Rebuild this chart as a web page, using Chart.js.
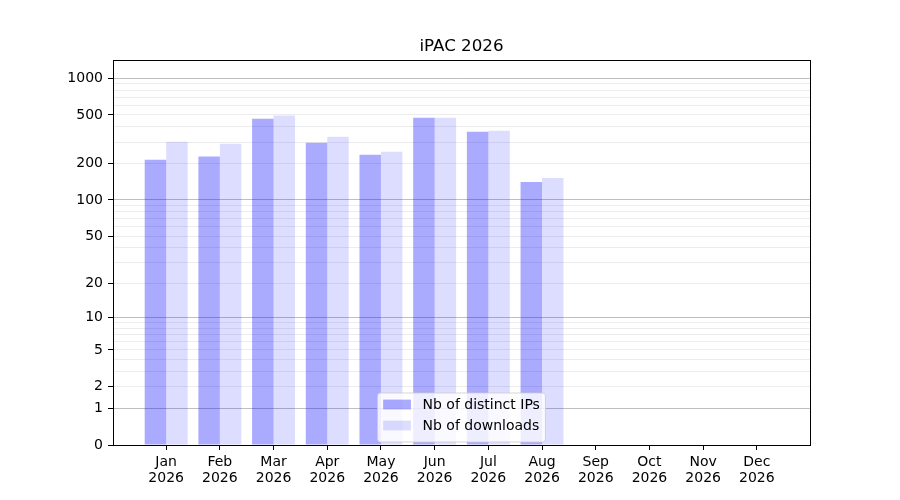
<!DOCTYPE html>
<html>
<head>
<meta charset="utf-8">
<title>iPAC 2026</title>
<script src="https://cdn.jsdelivr.net/npm/chart.js@4"></script>
<style>
  html, body { margin: 0; padding: 0; background: #fff; }
  #wrap { width: 900px; height: 500px; }
</style>
</head>
<body>
<div id="wrap"><canvas id="result"></canvas></div>
<script>
"use strict";
// monthly stats
const title = "iPAC 2026";
const year = "2026";
const months = ["Jan", "Feb", "Mar", "Apr", "May", "Jun", "Jul", "Aug", "Sep", "Oct", "Nov", "Dec"];
const distinctIps = [215, 228, 466, 296, 236, 474, 364, 141, 0, 0, 0, 0];
const downloads = [302, 291, 495, 331, 249, 475, 371, 152, 0, 0, 0, 0];

// y axis (log(1+x) scale)
const yLabels = [0, 1, 2, 5, 10, 20, 50, 100, 200, 500, 1000];
const yMajor = [1, 10, 100, 1000];
const yGrid = [0, 1, 2, 3, 4, 5, 6, 7, 8, 9, 10, 20, 30, 40, 50, 60, 70, 80, 90,
  100, 200, 300, 400, 500, 600, 700, 800, 900, 1000];
const yMax = 1410;

const FONT = "'DejaVu Sans', sans-serif";

// scale like matplotlib's log1p axis
class Log1pScale extends Chart.Scale {
  static id = "log1p";
  static defaults = {};
  determineDataLimits() {
    this.min = this.options.min;
    this.max = this.options.max;
  }
  buildTicks() {
    return yGrid.map((v) => ({ value: v }));
  }
  configure() {
    super.configure();
    this._start = Math.log10(1 + this.min);
    this._range = Math.log10(1 + this.max) - this._start;
  }
  getLabelForValue(v) {
    return String(v);
  }
  getPixelForValue(v) {
    return this.getPixelForDecimal((Math.log10(1 + v) - this._start) / this._range);
  }
  getValueForPixel(p) {
    return Math.pow(10, this._start + this.getDecimalForPixel(p) * this._range) - 1;
  }
}
Chart.register(Log1pScale);

// frame, title and legend drawn like matplotlib
const decor = {
  id: "decor",
  afterDatasetsDraw(chart) {
    const { ctx, chartArea: a } = chart;
    const l = Math.round(a.left) + 0.5, t = Math.round(a.top) + 0.5;
    const r = Math.round(a.right) + 0.5, b = Math.round(a.bottom) + 0.5;
    ctx.save();
    ctx.strokeStyle = "#000";
    ctx.lineWidth = 1;
    ctx.strokeRect(l, t, r - l, b - t);

    ctx.fillStyle = "#000";
    ctx.font = "16.7px " + FONT;
    ctx.textAlign = "center";
    ctx.textBaseline = "alphabetic";
    ctx.fillText(title, (a.left + a.right) / 2, a.top - 9.5);

    ctx.font = "14px " + FONT;
    const sets = chart.data.datasets;
    const textW = Math.max(...sets.map((d) => ctx.measureText(d.label).width));
    const pad = 5.6, hl = 27.8, gap = 11.6;
    const w = pad + hl + gap + textW + pad;
    const h = 49;
    const x0 = (a.left + a.right) / 2 - w / 2;
    const y0 = a.bottom - 3 - h;
    ctx.beginPath();
    ctx.roundRect(x0, y0, w, h, 3);
    ctx.fillStyle = "rgba(255,255,255,0.8)";
    ctx.fill();
    ctx.strokeStyle = "rgba(204,204,204,0.8)";
    ctx.stroke();
    ctx.textAlign = "left";
    ctx.textBaseline = "middle";
    sets.forEach((d, i) => {
      const cy = y0 + 11.5 + i * 21;
      ctx.fillStyle = d.backgroundColor;
      ctx.fillRect(x0 + pad, cy - 4.9, hl, 9.8);
      ctx.fillStyle = "#000";
      ctx.fillText(d.label, x0 + pad + hl + gap, cy + 0.5);
    });
    ctx.restore();
  },
};

new Chart("result", {
  type: "bar",
  data: {
    datasets: [
      {
        label: "Nb of distinct IPs",
        backgroundColor: "rgba(0,0,255,0.333)",
        data: distinctIps.map((v, i) => ({ x: i, y: v })),
      },
      {
        label: "Nb of downloads",
        backgroundColor: "rgba(0,0,255,0.133)",
        data: downloads.map((v, i) => ({ x: i, y: v })),
      },
    ],
  },
  options: {
    responsive: true,
    maintainAspectRatio: false,
    animation: false,
    categoryPercentage: 0.8,
    barPercentage: 1.0,
    font: { family: FONT },
    layout: { padding: { left: 53, right: 90, top: 60, bottom: 15 } },
    plugins: {
      legend: { display: false },
      title: { display: false },
      tooltip: { enabled: false },
    },
    scales: {
      x: {
        type: "linear",
        min: -0.99,
        max: 11.99,
        offset: false,
        grid: {
          offset: false,
          drawOnChartArea: false,
          drawTicks: true,
          tickLength: 5,
          tickColor: "#000",
          tickWidth: 1,
        },
        border: { display: false },
        afterBuildTicks: (s) => {
          s.ticks = months.map((m, i) => ({ value: i }));
        },
        afterFit: (s) => {
          s.height = 40;
        },
        ticks: {
          padding: 4,
          maxRotation: 0,
          autoSkip: false,
          color: "#000",
          font: { family: FONT, size: 14, lineHeight: 1.15 },
          callback: (v) => [months[v], year],
        },
      },
      y: {
        type: "log1p",
        min: 0,
        max: yMax,
        grid: {
          drawTicks: true,
          tickLength: 5,
          tickWidth: 1,
          lineWidth: 1,
          color: (c) => {
            const v = c.tick.value;
            if (v === 0) return "rgba(0,0,0,0)";
            return yMajor.includes(v) ? "rgba(128,128,128,0.5)" : "rgba(128,128,128,0.15)";
          },
          tickColor: (c) => (yLabels.includes(c.tick.value) ? "#000" : "rgba(0,0,0,0)"),
        },
        border: { display: false },
        afterFit: (s) => {
          s.width = 60;
        },
        ticks: {
          padding: 5,
          autoSkip: false,
          color: "#000",
          font: { family: FONT, size: 14 },
          callback: (v) => (yLabels.includes(v) ? String(v) : ""),
        },
      },
    },
  },
  plugins: [decor],
});
</script>
</body>
</html>
